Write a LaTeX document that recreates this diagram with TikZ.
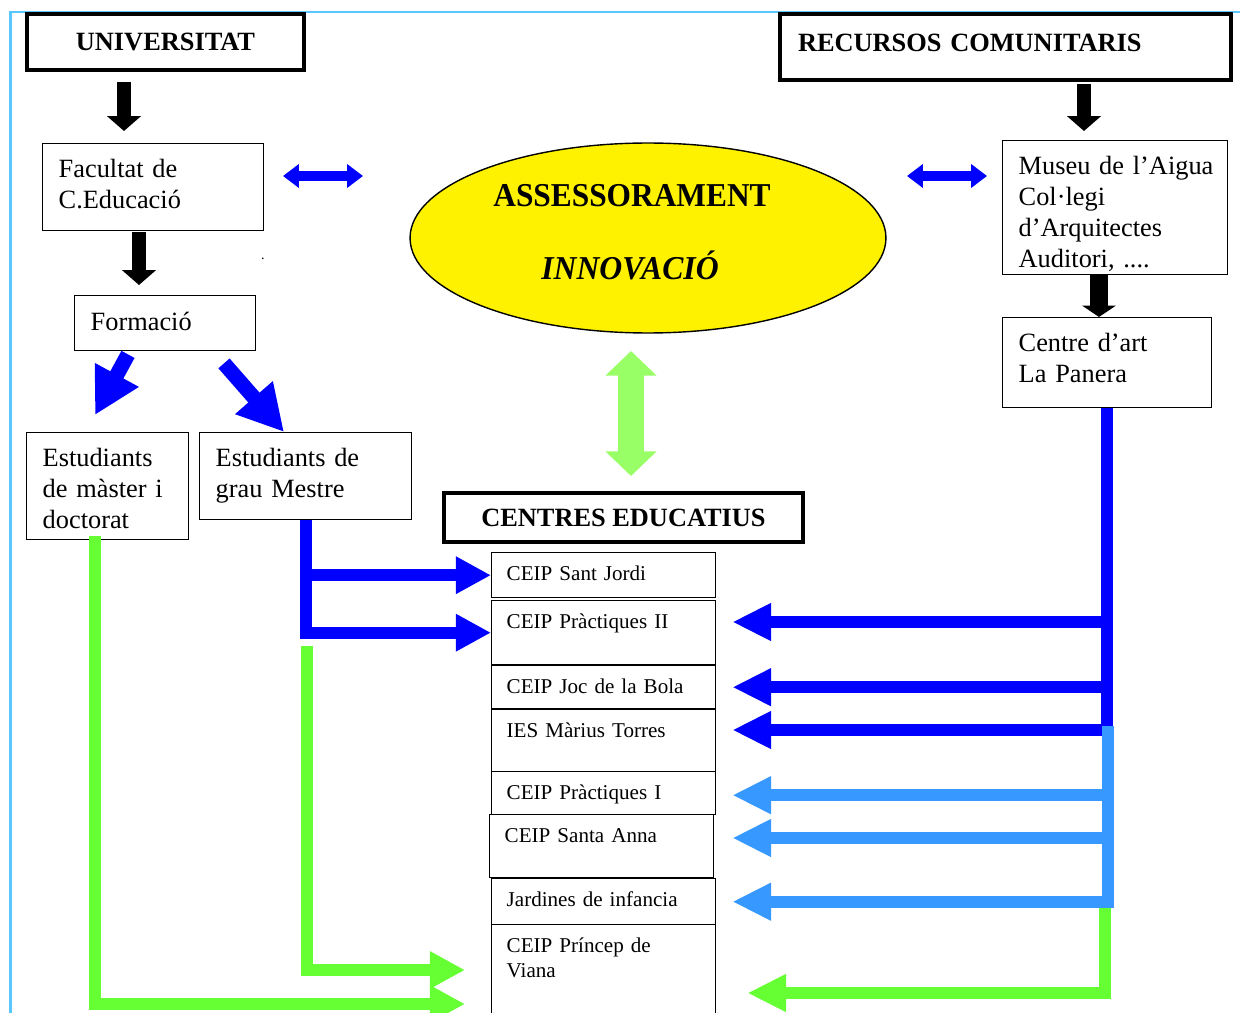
\documentclass[tikz,border=0pt]{standalone}
\usepackage{fontspec}
\setmainfont{Liberation Serif}
\usepackage{xcolor}
\usepackage{graphicx}
\usepackage{tikz}
\usetikzlibrary{shapes,arrows.meta,positioning,calc}

\definecolor{framecyan}{RGB}{90,200,255}
\definecolor{lightblue}{RGB}{55,152,255}
\definecolor{arrowgreen}{RGB}{102,255,51}
\definecolor{palegreen}{RGB}{153,255,102}

\begin{document}
\begin{tikzpicture}[x=0.02cm, y=-0.02cm]
    % Define styles
    \tikzstyle{header} = [rectangle, draw, line width=2.3pt, anchor=north west, font=\fontsize{15}{18}\selectfont\bfseries]
    \tikzstyle{entity} = [rectangle, draw, line width=0.8pt, anchor=north west, inner xsep=0.32cm, inner ysep=0pt, text height=0.68cm, align=left, font=\fontsize{15}{17.6}\selectfont]
    \tikzstyle{school} = [rectangle, draw, line width=0.8pt, anchor=north west, inner xsep=0.3cm, inner ysep=0pt, text width=3.88cm, text height=0.56cm, align=left, font=\fontsize{12}{14.2}\selectfont]
    \tikzstyle{blackarrow} = [draw, black, line width=8pt, -{Triangle[length=8.5pt,width=19pt]}]
    \tikzstyle{diagarrow} = [draw, blue, line width=8.5pt, -{Triangle[length=26pt,width=26.6pt]}]
    \tikzstyle{pairarrow} = [draw, blue, line width=6.2pt, {Triangle[length=9pt,width=13pt]}-{Triangle[length=9pt,width=13pt]}]
    \tikzstyle{linkarrow} = [draw, line width=7pt, -{Triangle[length=20pt,width=20pt]}]
    \tikzstyle{feedarrow} = [draw, line width=6.8pt, -{Triangle[length=22pt,width=20pt]}]

    \useasboundingbox (0,0) rectangle (1240,1013);
    % Page frame
    \draw [framecyan, line width=1.2pt] (10.5,1013) -- (10.5,12.3) -- (1240,12.3);

    % University side
    \node [header, minimum width=5.54cm, minimum height=1.12cm] (univ) at (25,12) {UNIVERSITAT};
    \node [entity, text width=3.78cm, text depth=1.06cm] (fac) at (42,143) {Facultat de\\C.Educació};
    \node [entity, text width=2.98cm, text height=0.70cm, text depth=0.40cm] (form) at (74,295) {Formació};
    \node [entity, text width=2.60cm, text depth=1.46cm] (master) at (26,432) {Estudiants\\de màster i\\doctorat};
    \node [entity, text width=3.60cm, text depth=1.06cm] (grau) at (199,432) {Estudiants de\\grau Mestre};
    \node [font=\fontsize{8}{9}\selectfont] (dot) at (263,259) {.};

    % Community resources side
    \node [header, inner xsep=0.36cm, inner ysep=0pt, text width=8.3cm, text height=0.74cm, text depth=0.58cm, align=left] (recursos) at (778,12) {RECURSOS COMUNITARIS};
    \node [entity, text width=3.86cm, text depth=2.00cm] (museu) at (1002,140) {\mbox{Museu de l’Aigua}\\Col·legi\\d’Arquitectes\\\mbox{Auditori, ....}};
    \node [entity, text width=3.54cm, text depth=1.12cm] (panera) at (1002,317) {Centre d’art\\La Panera};

    % Centre
    \node [ellipse, draw, fill=yellow, line width=0.8pt, minimum width=9.52cm, minimum height=3.8cm, inner sep=0pt] (ases) at (648,238) {};
    \node [anchor=base, font=\fontsize{19}{22}\selectfont\bfseries] (asstext) at (632,207) {\scalebox{0.94}[1]{ASSESSORAMENT}};
    \node [anchor=base, font=\fontsize{19}{22}\selectfont\bfseries\itshape] (innotext) at (630,280) {\scalebox{0.95}[1]{INNOVACIÓ}};

    % Schools
    \node [header, minimum width=7.18cm, minimum height=0.98cm] (centres) at (442,491) {CENTRES EDUCATIUS};
    \node [school, text depth=0.34cm] (c1) at (491,552) {CEIP Sant Jordi};
    \node [school, text depth=0.72cm] (c2) at (491,600) {CEIP Pràctiques II};
    \node [school, text depth=0.30cm] (c3) at (491,665) {CEIP Joc de la Bola};
    \node [school, text depth=0.68cm] (c4) at (491,709) {IES Màrius Torres};
    \node [school, text depth=0.30cm] (c5) at (491,771) {CEIP Pràctiques I};
    \node [school, text depth=0.70cm] (c6) at (489,814) {CEIP Santa Anna};
    \node [school, text depth=0.36cm] (c7) at (491,878) {Jardines de infancia};
    \node [school, text depth=1.46cm] (c8) at (491,924) {CEIP Príncep de\\Viana};

    % Free ends of the arrows
    \coordinate (la1) at (283,176);
    \coordinate (la2) at (363,176);
    \coordinate (ra1) at (907,176);
    \coordinate (ra2) at (987,176);
    \coordinate (ga1) at (631,351);
    \coordinate (ga2) at (631,476);
    \coordinate (r1) at ($(c2.north east)+(16,22)$);
    \coordinate (r2) at ($(c3.east)+(16,0)$);
    \coordinate (r3) at ($(c4.north east)+(16,21)$);
    \coordinate (r4) at ($(c5.east)+(16,2)$);
    \coordinate (r5) at ($(c6.north east)+(18,24)$);
    \coordinate (r6) at ($(c7.east)+(16,0)$);
    \coordinate (split) at ($(panera.south)+(0.5,318)$);

    % Black arrows down
    \draw [blackarrow] ($(univ.south west)+(99,10)$) -- ($(fac.north west)+(82,-12)$);
    \draw [blackarrow] ($(fac.south west)+(97,1)$) -- ($(form.north west)+(65,-10)$);
    \draw [blackarrow] ($(recursos.south west)+(306,2)$) -- ($(museu.north west)+(82,-9)$);
    \draw [blackarrow, line width=10pt, -{Triangle[length=6.5pt,width=19pt]}] ($(museu.south west)+(97,0)$) -- ($(panera.north west)+(97,0)$);

    % Formació splits in two
    \draw [diagarrow] ($(form.south west)+(54,3)$) -- ($(master.north west)+(69,-17)$);
    \draw [diagarrow] ($(form.south west)+(150,12)$) -- ($(grau.north west)+(85,0)$);

    % Links with the advice centre
    \draw [pairarrow] (la1) -- (la2);
    \draw [pairarrow] (ra1) -- (ra2);
    \draw [palegreen, line width=14.7pt, {Triangle[length=14pt,width=28.3pt]}-{Triangle[length=14pt,width=28.3pt]}] (ga1) -- (ga2);

    % Students to the schools
    \draw [linkarrow, blue] (grau.south) |- (c1.west);
    \draw [linkarrow, blue] (grau.south) |- (c2.west);
    \draw [linkarrow, arrowgreen] ($(grau.south)+(1,126)$) |- ($(c8.north west)+(-26,46)$);
    \draw [linkarrow, arrowgreen] ($(master.south west)+(69,-4)$) |- ($(c8.north west)+(-26,80)$);

    % Resources to the schools
    \draw [feedarrow, blue] (panera.south) |- (r1);
    \draw [feedarrow, blue] (panera.south) |- (r2);
    \draw [feedarrow, blue] (panera.south) |- (r3);
    \draw [feedarrow, lightblue] (split) |- (r4);
    \draw [feedarrow, lightblue] (split) |- (r5);
    \draw [feedarrow, lightblue] (split) |- (r6);
    \draw [feedarrow, arrowgreen] ($(split)+(-3,182)$) |- ($(c8.north east)+(31,69)$);
\end{tikzpicture}
\end{document}
